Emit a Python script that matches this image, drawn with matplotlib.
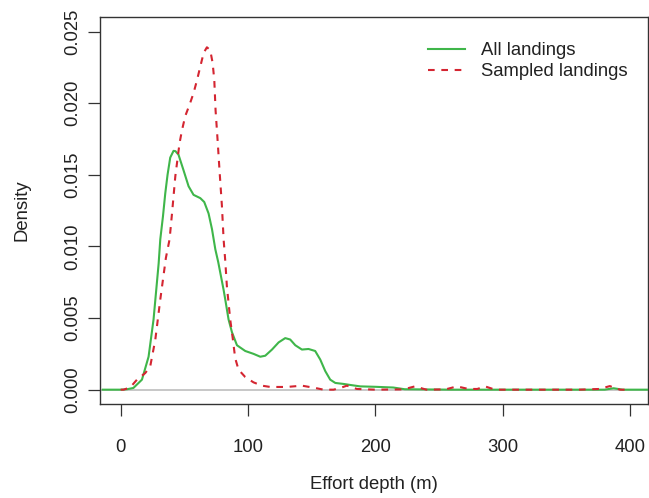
import matplotlib
matplotlib.use("Agg")
import matplotlib.pyplot as plt

# density curves (x: depth in m, y: density)
all_x = [-14, 0, 5, 10, 16.7, 21.9, 25.8, 29.8, 31.1, 33.2, 35, 36.8, 38.9,
         41.5, 43, 45.4, 49.4, 53.3, 57.2, 62.5, 65.6, 69, 71.7, 74.3, 76.6,
         80.8, 82.1, 84.7, 87.4, 91.3, 97.8, 104.3, 109.6, 113.5, 118.8, 124,
         129.2, 133.1, 137.1, 142.3, 147.5, 152.7, 156.7, 160.6, 164.5,
         168.5, 175, 180.2, 188, 200, 214, 223, 260, 300, 350, 380, 387, 394,
         414]
all_y = [0.0, 0.0, 0.00003, 0.00012, 0.0007, 0.0023, 0.0049, 0.0088, 0.0105,
         0.0121, 0.0137, 0.0150, 0.0162, 0.01667, 0.01665, 0.0164, 0.0153,
         0.0142, 0.0136, 0.01337, 0.0131, 0.0123, 0.0112, 0.0098, 0.0089,
         0.00697, 0.0063, 0.0049, 0.0040, 0.0031, 0.0027, 0.0025, 0.0023,
         0.00237, 0.0028, 0.0033, 0.0036, 0.0035, 0.0031, 0.0028, 0.00284,
         0.0027, 0.0021, 0.0013, 0.0007, 0.00047, 0.0004, 0.00033, 0.00023,
         0.0002, 0.00015, 0.00003, 0.0, 0.0, 0.0, 0.0, 0.0001, 0.0, 0.0]

samp_x = [0, 2.3, 7.5, 12.8, 19.3, 23.2, 27.2, 31.1, 35.5, 38.4, 40.3, 42.9,
          46.2, 48.1, 50.7, 54.1, 57.2, 59.9, 62.5, 65.1, 67.7, 70.3, 72.2,
          73.5, 74.5, 76.1, 77.6, 79.5, 80.8, 82.1, 83.4, 86, 88.1, 89.9,
          92.5, 97.8, 104.3, 110.9, 117.4, 130.5, 142.3, 152.7, 159.3, 167.1,
          172.4, 177.6, 185.5, 200, 222, 231, 240, 255, 264, 273, 280, 286,
          294, 320, 360, 376, 384, 392, 400]
samp_y = [0.0, 0.0, 0.00016, 0.0007, 0.00116, 0.00163, 0.0035, 0.0063, 0.0092,
          0.0105, 0.0123, 0.0149, 0.0172, 0.0181, 0.0191, 0.0199, 0.0207,
          0.0216, 0.02255, 0.0235, 0.0239, 0.0237, 0.0228, 0.0216, 0.0195,
          0.0174, 0.0153, 0.0128, 0.0105, 0.0090, 0.0072, 0.0049, 0.0035,
          0.0022, 0.0014, 0.00088, 0.00051, 0.00028, 0.00019, 0.00019,
          0.00028, 0.00012, 0.0, 0.0, 0.00012, 0.00028, 0.00005, 0.0,
          0.00002, 0.00023, 0.0, 0.00002, 0.00023, 0.00005, 0.00005, 0.00023,
          0.0, 0.0, 0.0, 0.00005, 0.00025, 0.0, 0.0]

x_ticks = [0, 100, 200, 300, 400]
y_ticks = [0.000, 0.005, 0.010, 0.015, 0.020, 0.025]
y_labels = ["0.000", "0.005", "0.010", "0.015", "0.020", "0.025"]
series_names = ["All landings", "Sampled landings"]

green = "#3fb64a"
red = "#d42531"
txt = "#222222"

plt.rcParams["font.family"] = ["Liberation Sans", "DejaVu Sans"]

fig = plt.figure(figsize=(6.49, 4.98), dpi=100)
ax = fig.add_axes([100.3 / 649, 94 / 498, 547.7 / 649, 386.8 / 498])

ax.axhline(0, color="#bebebe", lw=1.2, zorder=1)
ax.plot(all_x, all_y, color=green, lw=1.5, label=series_names[0], zorder=3)
ax.plot(samp_x, samp_y, color=red, lw=1.5, linestyle=(0, (3.2, 3.2)),
        label=series_names[1], zorder=4)

ax.set_xlim(-16, 414)
ax.set_ylim(-0.001, 0.026)
ax.set_xticks(x_ticks)
ax.set_yticks(y_ticks)
ax.set_yticklabels(y_labels, rotation=90, va="center")

for s in ax.spines.values():
    s.set_color("#333333")
    s.set_linewidth(1.0)
ax.tick_params(axis="both", length=8.5, width=0.9, color="#333333",
               labelsize=13.3, labelcolor=txt)
ax.tick_params(axis="x", pad=17)
ax.tick_params(axis="y", pad=5)

ax.set_xlabel("Effort depth (m)", fontsize=13.3, color=txt, labelpad=14)
ax.set_ylabel("Density", fontsize=13.3, color=txt, labelpad=24.5)

ax.legend(loc="upper left", bbox_to_anchor=(0.598, 0.935), frameon=False,
          fontsize=13.3, handlelength=2.0, handletextpad=0.9,
          labelspacing=0.2, borderpad=0, borderaxespad=0)
for t in ax.get_legend().get_texts():
    t.set_color(txt)

fig.savefig("out.png", dpi=100)
